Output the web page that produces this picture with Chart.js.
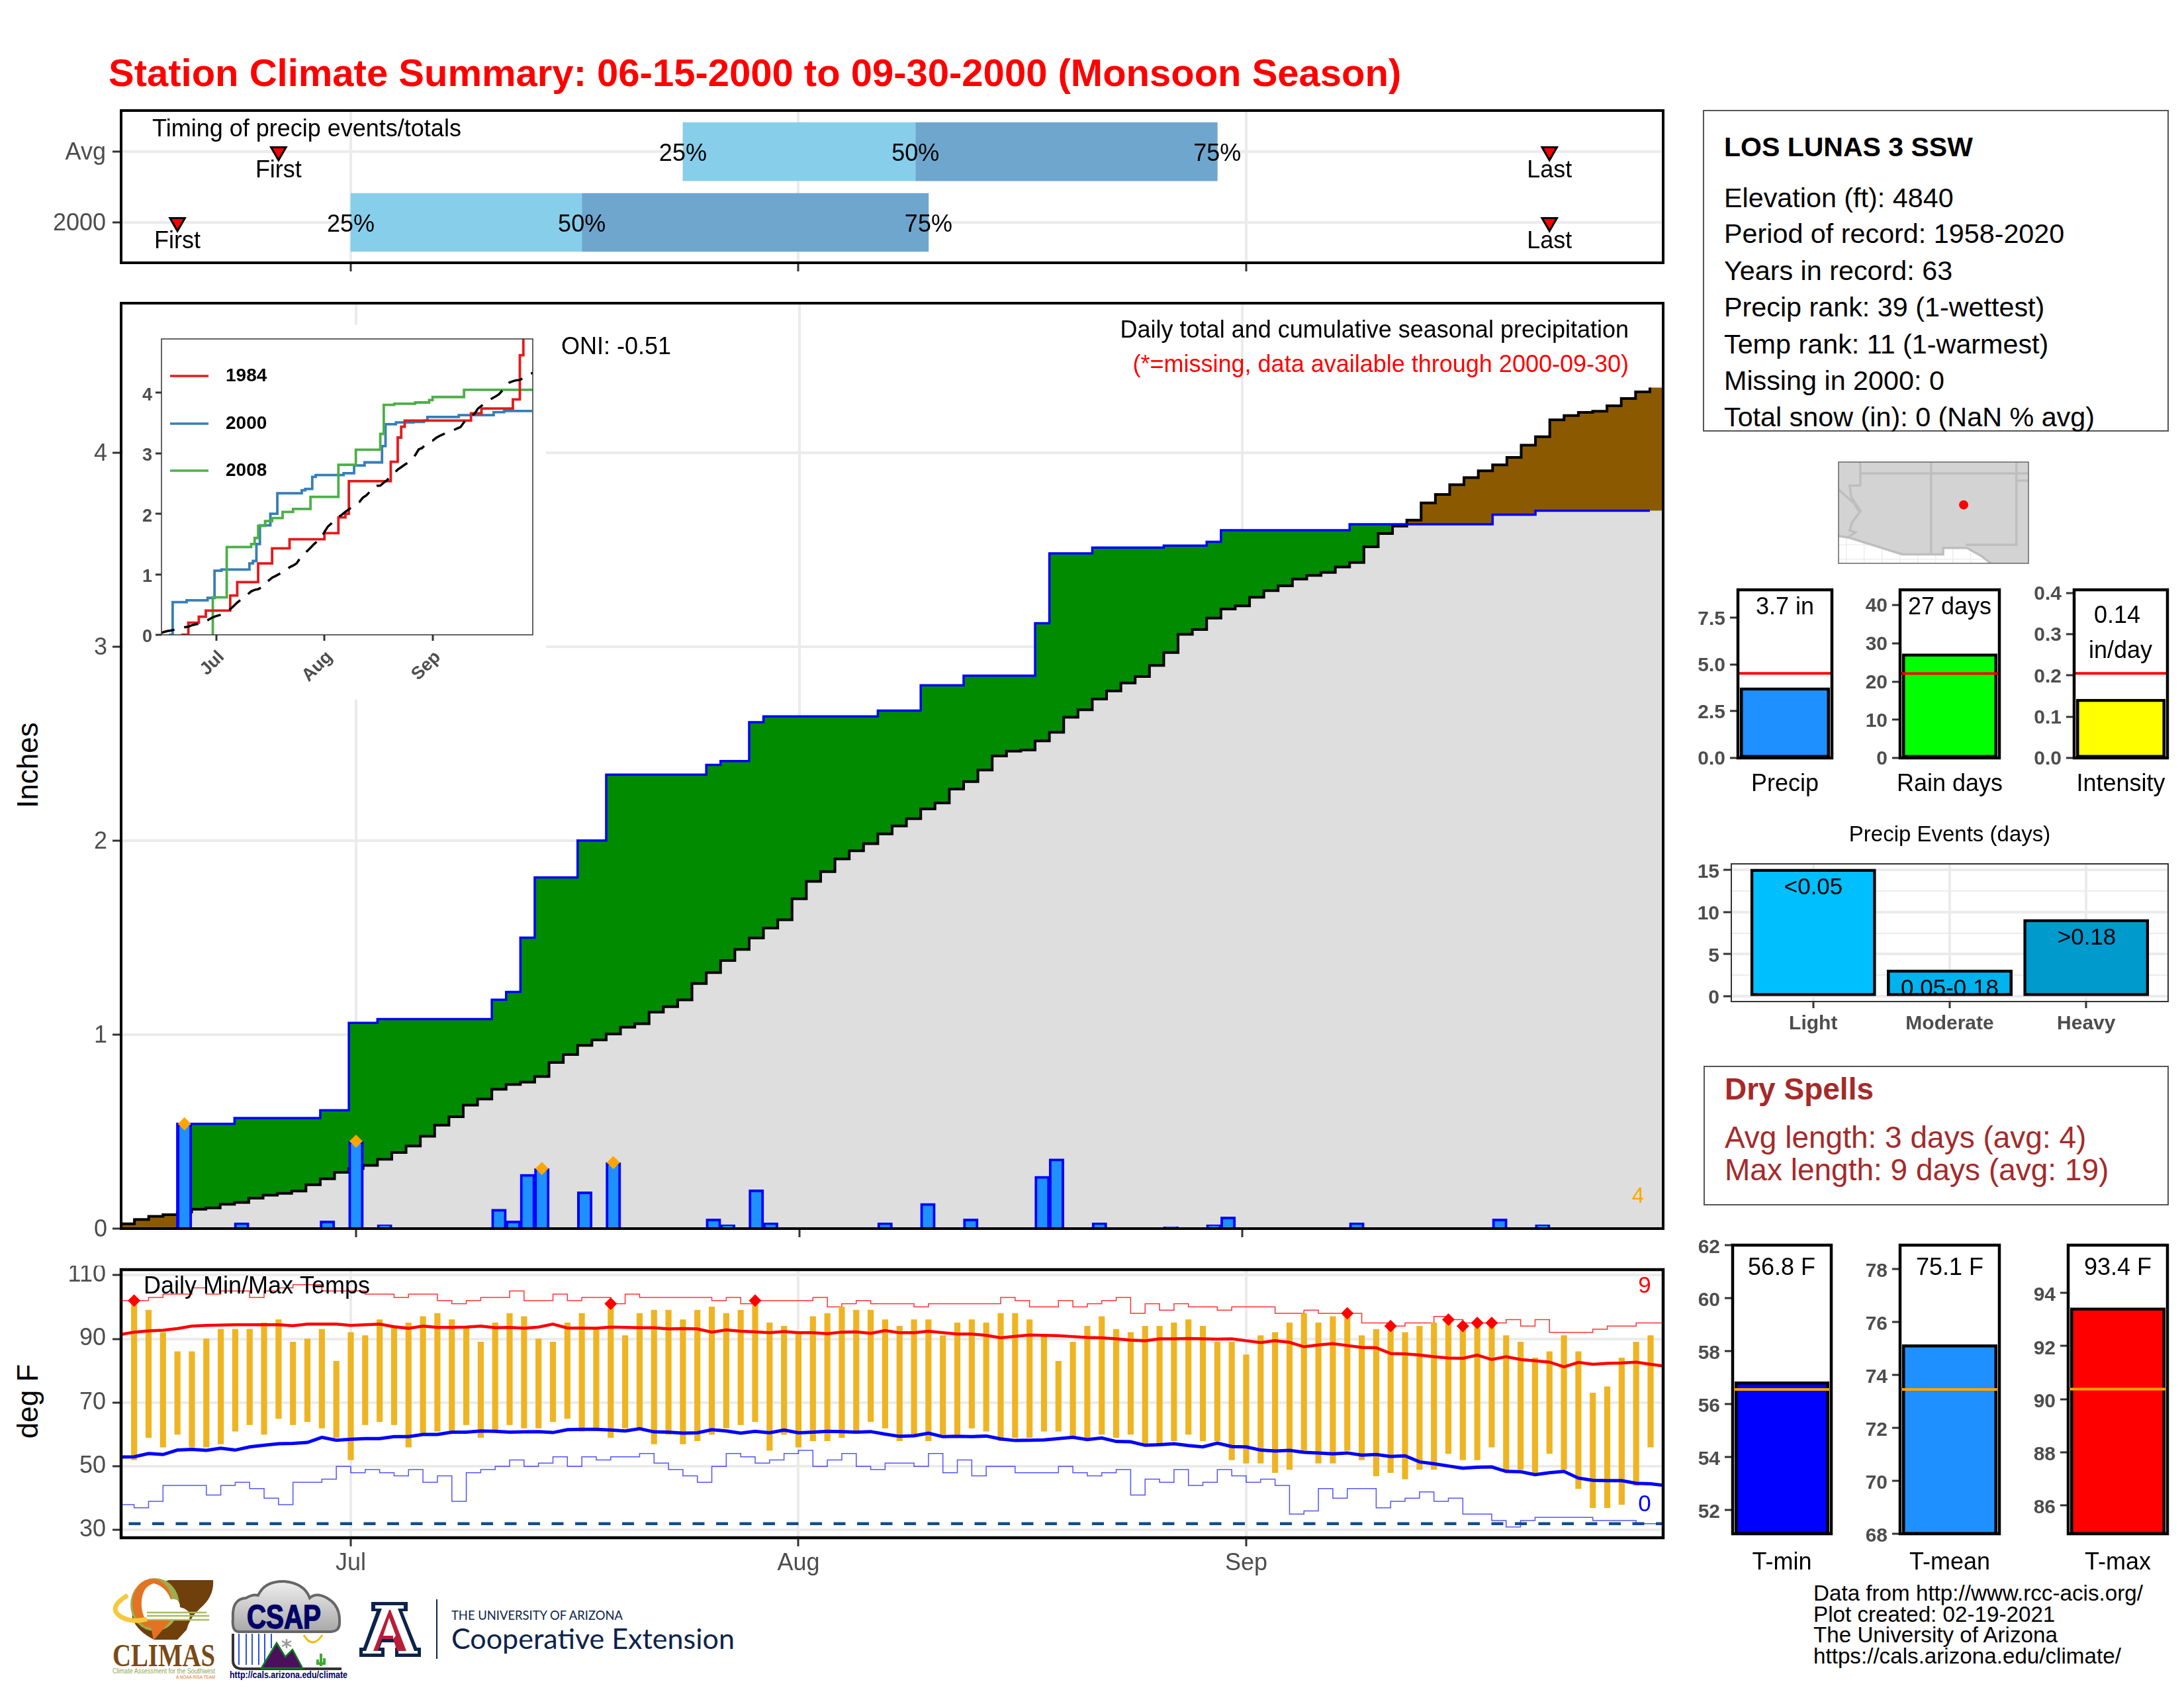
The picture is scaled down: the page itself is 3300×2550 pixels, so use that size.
<!DOCTYPE html>
<html><head><meta charset="utf-8">
<style>
html,body{margin:0;padding:0;background:#fff;width:3300px;height:2550px;overflow:hidden}
canvas{position:absolute;display:block}
.t{position:absolute;white-space:nowrap;font-family:"Liberation Sans",Arial,sans-serif}
.box{position:absolute;box-sizing:border-box;background:transparent}
</style>
<script src="https://cdn.jsdelivr.net/npm/chart.js@4"></script>
</head><body>
<svg id="logos" width="3300" height="2550" style="position:absolute;left:0;top:0" xmlns="http://www.w3.org/2000/svg">
<defs><linearGradient id="cg" x1="0" y1="0" x2="0" y2="1"><stop offset="0" stop-color="#efefef"/><stop offset="1" stop-color="#a8a8a8"/></linearGradient></defs>
<!-- CLIMAS -->
<path d="M255 2387 L322 2387 Q324 2412 302 2430 Q286 2445 282 2462 L268 2477 L233 2477 Q208 2465 200 2445 Q196 2405 255 2387Z" fill="#6F3F0C"/>
<ellipse cx="234" cy="2424" rx="37" ry="40" fill="#9BAF4E"/>
<ellipse cx="230" cy="2422" rx="30" ry="37" fill="#E37222"/>
<path d="M232 2392 Q212 2398 214 2428 Q216 2444 222 2446 L286 2446 Q290 2432 272 2428 Q272 2414 258 2416 Q250 2396 232 2392Z" fill="#fff"/>
<path d="M193 2410 Q162 2428 182 2442 Q198 2452 222 2446" fill="none" stroke="#F6C83C" stroke-width="7"/>
<path d="M222 2441 L316 2441 M222 2447 L316 2447 M222 2436 L312 2436" stroke="#A9BC5E" stroke-width="2.5"/>
<path d="M226 2448 L258 2448 L232 2478Z" fill="#E37222"/>
<text x="170" y="2517" font-family="Liberation Serif" font-weight="bold" font-size="48" fill="#7A4A14" textLength="155" lengthAdjust="spacingAndGlyphs">CLIMAS</text>
<text x="170" y="2528" font-family="Liberation Sans" font-size="10" fill="#8FA65A" textLength="155" lengthAdjust="spacingAndGlyphs">Climate Assessment for the Southwest</text>
<text x="266" y="2536" font-family="Liberation Sans" font-size="8" fill="#E37222" textLength="59" lengthAdjust="spacingAndGlyphs">A NOAA RISA TEAM</text>
<!-- CSAP -->
<path d="M360 2465 Q350 2464 352 2445 Q350 2415 372 2414 Q382 2408 390 2410 Q400 2388 430 2389 Q460 2392 468 2414 Q478 2405 494 2414 Q514 2425 513 2450 Q514 2464 500 2465Z" fill="url(#cg)" stroke="#666" stroke-width="4"/>
<text x="429" y="2460" text-anchor="middle" font-family="Liberation Sans" font-weight="bold" font-size="50" fill="#000066" stroke="#000066" stroke-width="1.5" textLength="112" lengthAdjust="spacingAndGlyphs">CSAP</text>
<path d="M361 2468 V2515 M372 2468 V2515 M381 2468 V2515 M391 2468 V2515 M400 2468 V2512 M410 2468 V2490" stroke="#2A50E0" stroke-width="2"/>
<path d="M352 2468 V2508 Q352 2521 366 2521 L516 2521" fill="none" stroke="#333" stroke-width="4"/>
<path d="M395 2520 L418 2482 L431 2503 L442 2492 L457 2520Z" fill="#4B0F5B" stroke="#0A7A20" stroke-width="2.5"/>
<path d="M459 2470 Q472 2492 487 2470" fill="none" stroke="#F5B800" stroke-width="3"/>
<path d="M433 2476 V2490 M426 2479 L440 2487 M440 2479 L426 2487" stroke="#999" stroke-width="2.5"/>
<path d="M485 2517 V2498 M480 2507 V2513 H490 V2505" fill="none" stroke="#3DAA35" stroke-width="4"/>
<text x="347" y="2535" font-family="Liberation Sans" font-weight="bold" font-size="15" fill="#000066" textLength="178" lengthAdjust="spacingAndGlyphs">http://cals.arizona.edu/climate</text>
<!-- UA -->
<path d="M561 2420 H616 V2434 H608 L630 2489 H636 V2503 H597 V2489 H603 L600 2481 H577 L574 2489 H581 V2503 H543 V2489 H549 L569 2434 H561Z" fill="#0C234B"/>
<path d="M567 2425 H610 V2430 H601 L626 2494 H631 V2498 H602 V2494 H609 L603 2476 H574 L568 2494 H576 V2498 H548 V2494 H553 L577 2430 H567Z" fill="#fff"/>
<path d="M588 2432 L590 2432 L614 2494 H600 L594 2476 L598 2471 L588 2444 L579 2471 H594 L594 2476 H577 L571 2494 H564Z" fill="#B81D39"/>
<path d="M660 2416 V2506" stroke="#0C234B" stroke-width="2"/>
<text x="682" y="2447" font-family="Lato" font-size="20" fill="#0C234B" textLength="259" lengthAdjust="spacingAndGlyphs">THE UNIVERSITY OF ARIZONA</text>
<text x="682" y="2491" font-family="Lato" font-size="42" fill="#0C234B" textLength="428" lengthAdjust="spacingAndGlyphs">Cooperative Extension</text>
</svg>
<script>
// ---------- axis labels ----------
const monthLabels = ['Jul', 'Aug', 'Sep'];
const monthDays = [16, 47, 78]; // days since Jun 15
const precipTicks = [0, 1, 2, 3, 4];
const tempTicks = [30, 50, 70, 90, 110];
const timingRows = ['2000', 'Avg'];

// ---------- daily precipitation of 2000 ----------
const rainDays = [4,8,14,16,18,26,27,28,29,32,34,41,42,44,45,53,56,59,64,65,68,73,76,77,86,96,99];
const rainAmounts = [.54,.03,.04,.45,.02,.10,.04,.28,.31,.19,.34,.05,.02,.20,.03,.03,.13,.05,.27,.36,.03,.01,.02,.06,.03,.05,.02];
const topRainDays = [4, 16, 29, 34];
const topRainAmounts = [.54, .45, .31, .34];

// ---------- cumulative precipitation ----------
const cumulative2000 = [
 0,0,0,0,.54,.54,.54,.54,.57,.57,
 .57,.57,.57,.57,.61,.61,1.06,1.06,1.08,1.08,
 1.08,1.08,1.08,1.08,1.08,1.08,1.18,1.22,1.50,1.81,
 1.81,1.81,2.00,2.00,2.34,2.34,2.34,2.34,2.34,2.34,
 2.34,2.39,2.41,2.41,2.61,2.64,2.64,2.64,2.64,2.64,
 2.64,2.64,2.64,2.67,2.67,2.67,2.80,2.80,2.80,2.85,
 2.85,2.85,2.85,2.85,3.12,3.48,3.48,3.48,3.51,3.51,
 3.51,3.51,3.51,3.52,3.52,3.52,3.54,3.60,3.60,3.60,
 3.60,3.60,3.60,3.60,3.60,3.60,3.63,3.63,3.63,3.63,
 3.63,3.63,3.63,3.63,3.63,3.63,3.68,3.68,3.68,3.70,
 3.70,3.70,3.70,3.70,3.70,3.70,3.70,3.70];
const cumulativeAvg = [
 .025,.047,.063,.072,.085,.10,.107,.125,.135,.157,
 .172,.182,.194,.226,.257,.29,.31,.326,.357,.392,
 .426,.476,.533,.577,.636,.668,.718,.743,.755,.784,
 .856,.897,.944,.972,1.003,1.038,1.056,1.116,1.144,1.179,
 1.263,1.32,1.382,1.439,1.498,1.549,1.592,1.70,1.79,1.84,
 1.906,1.947,1.984,2.034,2.075,2.113,2.163,2.194,2.266,2.304,
 2.364,2.436,2.461,2.467,2.514,2.558,2.636,2.674,2.73,2.771,
 2.812,2.846,2.903,2.969,3.063,3.088,3.147,3.194,3.21,3.254,
 3.288,3.313,3.348,3.367,3.382,3.41,3.433,3.514,3.583,3.621,
 3.652,3.74,3.784,3.834,3.871,3.906,3.937,3.975,4.038,4.082,
 4.169,4.191,4.207,4.213,4.241,4.279,4.313,4.335];

// ---------- inset comparison years (day of change, new total) ----------
const days1984 = [6,8,11,13,20,22,28,32,37,47,51,53,54,66,68,69,70,89,92,101,103,104,107];
const totals1984 = [0,.2,.3,.4,.65,.87,1.18,1.43,1.58,1.68,1.94,2.0,2.54,2.86,3.26,3.44,3.54,3.66,3.74,3.89,4.62,4.95,4.95];
const days2008 = [15,15.01,19,26,27,28,30,32,35,38,43,51,56,63,64,67,73,77,78,87,107];
const totals2008 = [0,.62,1.45,1.5,1.6,1.8,1.88,1.93,2.03,2.08,2.28,2.81,3.06,3.32,3.8,3.82,3.84,3.88,3.93,4.05,4.05];

// ---------- timing of events ----------
const timingFirst = [4, 11];
const timingLast = [99, 99];
const timing25 = [16, 39];
const timing50 = [32, 55.1];
const timing75 = [56, 76];

// ---------- daily temperatures ----------
const tmaxDaily = [null,102,99,92,86,86,90,93,93,93,95,96,89,90,93,83,92,91,96,94,95,97,98,96,94,89,95,98,97,90,89,95,98,93,101,91,98,99,99,96,99,100,98,99,102,95,94,92,97,98,
 100,99,99,96,94,96,96,91,95,96,
 95,98,98,96,91,83,89,94,97,93,
 92,94,94,95,96,94,89,89,85,91,
 92,95,98,95,97,98,91,93,94,92,
 94,95,96,94,95,95,91,89,84,86,
 91,86,73,75,84,89,91,null];
const tminDaily = [null,52,59,56,60,56,56,57,61,63,60,65,63,64,62,59,52,63,64,63,56,60,61,61,63,59,61,63,62,62,64,65,61,62,59,62,62,57,60,57,58,60,62,63,64,55,60,56,58,58,
 59,61,64,62,58,60,58,60,60,62,
 61,58,59,59,61,61,59,59,60,59,
 60,57,57,58,60,58,58,52,51,51,
 48,49,55,51,51,55,52,47,48,46,
 49,49,54,52,52,56,49,49,48,54,
 49,43,37,37,38,44,56,null];
const normalHigh = [91.3,92.1,92.5,92.7,93.2,94,94.2,94.3,94.4,94.4,94.4,94.4,94.1,94.6,94.6,94.6,94.2,94.4,94.6,93.8,93.3,94,93.6,93.6,93.7,94,93.5,93.6,93.3,93.7,94.6,93.4,93.4,93.3,93.7,93.6,93.5,93.5,93.1,93.2,93.1,92.1,92.8,92.4,92.2,91.9,92.3,91.9,91.9,91.6,
 92.1,92.2,91.7,92.6,91.9,91.9,92.4,91.9,91.5,91.5,
 91.1,90.3,90.8,91.2,91.1,91,90.7,90.4,90.3,90,
 89.6,89.4,90,90,90.1,90,89.9,90,89.4,88.8,
 89.4,88.9,87.5,88.1,88.5,87.9,87.3,87.2,85.4,85.3,
 84.9,84.4,84,83.9,84.9,83.5,84.4,83.5,83.1,82.7,
 81.2,82.6,82,82.3,82.4,82.7,82,81.4];
const normalLow = [52.9,53,54,53.7,55.1,55.3,55,55.7,55.1,56.1,56.6,57.1,57.2,57.5,59.1,58.2,58.5,58.7,58.7,59.3,59.3,60,60,60.7,60.7,61.1,61,60.7,60.8,60.9,60.6,61.5,61.6,61.6,61.4,61.1,61.8,60.8,60.7,60.4,60.5,61.5,61.1,60.4,61,60.5,61.4,60.5,60.7,61,
 60.9,60.7,60.9,60.1,59.4,59.6,60.4,59.3,59.4,59.3,
 59.5,58.6,58.1,58.2,58.3,58.7,59.1,58.4,58.9,57.8,
 57.7,56.6,56.8,57.1,56.5,56.1,57.3,56.2,56.1,55.1,
 54.8,55,54.4,54.2,53.9,54.2,53.5,53.7,53.1,53.3,
 51.4,50.8,50.1,49.4,49.7,49.8,48.4,48.3,47.4,48,
 48.4,46.3,45.6,45.5,45.5,44.7,44.5,44];
const recordHigh = [102,102,103,104,104,106,104,105,105,103,
 105,106,107,107,105,105,105,104,104,103,
 104,104,102,101,102,103,103,105,102,102,
 104,102,103,103,101,104,103,103,103,103,
 103,102,103,101,102,102,102,102,103,100,
 101,102,101,101,101,100,101,101,101,101,
 101,103,102,100,100,102,100,101,102,103,
 98,101,99,101,100,100,99,100,100,100,
 98,98,99,98,98,98,95,95,94,95,
 95,97,96,95,95,95,96,94,96,92,
 92,92,93,94,94,95,95,95];
const recordLow = [38,37,39,44,44,44,41,44,45,43,
 40,38,45,45,46,50,48,49,48,47,
 49,45,47,39,48,49,50,52,50,51,
 53,50,53,52,53,53,54,51,49,47,
 45,50,54,53,51,52,54,55,50,52,
 54,50,49,51,51,50,54,48,52,47,
 50,50,48,48,48,50,48,47,48,49,
 41,46,45,49,44,45,49,47,45,46,
 44,35,36,43,40,43,43,37,39,40,
 42,39,40,35,35,33,31,33,34,34,
 34,34,33,33,33,32,32,32];
const freezeLine = [32, 32];
const recordHighDays = [1,34,44,85,88,92,93,94,95];
const recordHighTemps = [102,101,102,98,94,96,94,95,95];

// ---------- summary panels ----------
const precipTotal = [3.7], precipNormal = [4.53];
const rainDayTotal = [27], rainDayNormal = [22.1];
const intensityTotal = [0.14], intensityNormal = [0.205];
const eventLabels = ['Light', 'Moderate', 'Heavy'];
const eventCounts = [15, 3, 9];
const eventRanges = ['<0.05', '0.05-0.18', '>0.18'];
const eventTicks = [0, 2.5, 5, 7.5, 10, 12.5, 15];
const tminSeason = [56.8], tminNormal = [56.55];
const tmeanSeason = [75.1], tmeanNormal = [73.45];
const tmaxSeason = [93.4], tmaxNormal = [90.38];

// ---------- locator map (lon / lat) ----------
const landLon = [-115.56,-102.2,-102.2,-104.85,-105.5,-106.53,-108.2,-108.2,-111.07,-114.8,-115.56,-115.56];
const landLat = [37.8,37.8,30.7,30.7,31.2,31.78,31.78,31.33,31.33,32.5,32.62,37.8];
const borderAzNmLon = [-109.05,-109.05]; const borderAzNmLat = [37.8,31.33];
const border37Lon = [-114.03,-102.2]; const border37Lat = [37,37];
const borderPanLon = [-103.05,-102.2]; const borderPanLat = [36.5,36.5];
const borderNmTxLon = [-103.05,-103.05,-106.6]; const borderNmTxLat = [37.8,32,32];
const borderRiverLon = [-114.03,-114.03,-114.78,-114.66,-114.02,-114.61,-114.78,-114.37,-114.85];
const borderRiverLat = [37.8,36.15,36.15,35.33,34.38,33.56,33.01,32.87,32.55];
const borderCaNvLon = [-115.56,-114.49,-114.13]; const borderCaNvLat = [35.88,34.92,34.38];
const stationLon = [-106.76]; const stationLat = [34.8];

// ---------- text ----------
const titleText = 'Station Climate Summary: 06-15-2000 to 09-30-2000 (Monsoon Season)';
const stationLines = ['Elevation (ft): 4840','Period of record: 1958-2020','Years in record: 63','Precip rank: 39 (1-wettest)','Temp rank: 11 (1-warmest)','Missing in 2000: 0','Total snow (in): 0 (NaN % avg)'];
const footerLines = ['Data from http://www.rcc-acis.org/','Plot created: 02-19-2021','The University of Arizona','https://cals.arizona.edu/climate/'];

// ================= helpers =================
const FF = '"Liberation Sans", Arial, sans-serif';
Chart.defaults.font.family = FF;
Chart.defaults.animation = false;
const GRAY = '#4D4D4D', GRID = '#EBEBEB', TICK = '#333333';

function addText(x, base, str, size, opt = {}) {
  const d = document.createElement('div');
  d.className = 't'; d.textContent = str;
  d.style.fontSize = size + 'px';
  d.style.fontWeight = opt.bold ? 'bold' : 'normal';
  d.style.color = opt.color || '#000';
  d.style.top = (base - 0.92 * size) + 'px';
  d.style.left = x + 'px';
  document.body.appendChild(d);
}
function addBox(x, y, w, h, border) {
  const d = document.createElement('div');
  d.className = 'box';
  Object.assign(d.style, {left: x + 'px', top: y + 'px', width: w + 'px', height: h + 'px', border});
  document.body.appendChild(d);
}

function axis(o) {
  const labels = o.labels;
  return {
    type: 'linear', bounds: 'data', min: o.min, max: o.max, offset: false,
    grid: {
      offset: false,
      display: o.grid !== false,
      drawOnChartArea: o.grid !== false && !o.noArea,
      drawTicks: o.tickLength !== 0,
      color: o.gridColor || GRID, lineWidth: o.gridWidth || 4,
      tickColor: o.tickColor || TICK, tickWidth: o.tickWidth || 3, tickLength: o.tickLength === undefined ? 13 : o.tickLength,
      z: -1
    },
    border: {display: false},
    ticks: {
      display: o.showLabels !== false,
      autoSkip: false, includeBounds: false,
      minRotation: o.rot || 0, maxRotation: o.rot || 0,
      labelOffset: o.labelOffset || 0,
      padding: o.padding === undefined ? 6 : o.padding,
      color: o.color || GRAY,
      font: {size: o.size || 36, weight: o.bold ? 'bold' : 'normal', family: FF},
      callback(v) { return labels ? (labels(v) ?? '') : String(v); }
    },
    afterBuildTicks(s) { s.ticks = o.at.map(v => ({value: v})); },
    afterFit(s) {
      if (s.isHorizontal()) s.height = o.margin; else s.width = o.margin;
      s.paddingLeft = s.paddingRight = s.paddingTop = s.paddingBottom = 0;
    }
  };
}

function panel(r, m, datasets, scales, deco = {}) {
  const c = document.createElement('canvas');
  const ox = r.x - m.l, oy = r.y - m.t;
  c.width = r.w + m.l + m.r; c.height = r.h + m.t + m.b;
  c.style.left = ox + 'px'; c.style.top = oy + 'px';
  c.style.width = c.width + 'px'; c.style.height = c.height + 'px';
  if (deco.bg) c.style.background = deco.bg;
  document.body.appendChild(c);
  const plug = {
    id: 'deco',
    afterDatasetsDraw(ch) {
      const g = ch.ctx, a = ch.chartArea;
      if (deco.frame) {
        g.save(); g.strokeStyle = deco.frame.color || '#000'; g.lineWidth = deco.frame.width || 4;
        g.strokeRect(a.left, a.top, a.right - a.left, a.bottom - a.top); g.restore();
      }
      for (const n of (deco.notes || [])) drawNote(ch, g, n, ox, oy);
      if (deco.legend) deco.legend(g, ox, oy);
    }
  };
  return new Chart(c, {
    data: {datasets},
    options: {
      responsive: false, maintainAspectRatio: false, devicePixelRatio: 1, animation: false,
      layout: {autoPadding: false, padding: {top: m.t, right: m.r, left: 0, bottom: 0}},
      plugins: {legend: {display: false}, tooltip: {enabled: false}, title: {display: false}},
      scales
    },
    plugins: [plug]
  });
}
function drawNote(ch, g, n, ox, oy) {
  g.save();
  const x = n.vx !== undefined ? ch.scales.x.getPixelForValue(n.vx) : n.px - ox;
  const y = (n.vy !== undefined ? ch.scales.y.getPixelForValue(n.vy) : n.py - oy) + (n.dy || 0) + 3;
  if (n.clipBottom) { g.beginPath(); g.rect(0, 0, ch.width, ch.scales.y.getPixelForValue(0) - 3); g.clip(); }
  g.font = `${n.bold ? 'bold ' : ''}${n.size || 36}px ${FF}`;
  g.fillStyle = n.color || '#000';
  g.textAlign = n.align || 'center'; g.textBaseline = 'middle';
  g.fillText(n.text, x, y);
  g.restore();
}
const line = (pts, o = {}) => Object.assign({type: 'line', data: pts, pointRadius: 0, borderWidth: 0, fill: false, tension: 0, spanGaps: false}, o);
const byIndex = (vals, shift = 0) => vals.map((y, i) => ({x: i + shift, y}));
const zip = (xs, ys) => xs.map((x, i) => ({x, y: ys[i]}));
const flat = (xs, v) => xs.map(x => ({x, y: v}));

// ================= page text =================
addText(164, 129, titleText, 58, {bold: true, color: '#FF0000'});
addBox(2573, 166, 704, 486, '2px solid #555');
addText(2605, 237, 'LOS LUNAS 3 SSW', 41, {bold: true});
[314, 368, 424, 479, 535, 590, 645].forEach((b, i) => addText(2605, b, stationLines[i], 41.3));
addBox(2574, 1610, 703, 211, '2px solid #555');
addText(2606, 1660, 'Dry Spells', 46, {bold: true, color: '#A52A2A'});
addText(2606, 1733, 'Avg length: 3 days (avg: 4)', 46, {color: '#A52A2A'});
addText(2606, 1782, 'Max length: 9 days (avg: 19)', 46, {color: '#A52A2A'});
[2419, 2450.5, 2482, 2513.5].forEach((b, i) => addText(2740, b, footerLines[i], 33.2));

function vertical(str, cx, cy) {
  const d = document.createElement('div');
  d.className = 't'; d.textContent = str; d.style.fontSize = '44px';
  d.style.left = cx + 'px'; d.style.top = cy + 'px';
  d.style.transform = 'translate(-50%,-50%) rotate(-90deg)';
  document.body.appendChild(d);
}
vertical('Inches', 42, 1156);
vertical('deg F', 42, 2117);

// ================= timing panel =================
const monthLabelOf = v => monthLabels[monthDays.indexOf(v)] ?? '';
panel({x: 183, y: 167, w: 2330, h: 230}, {l: 150, t: 6, r: 6, b: 30}, [
  {type: 'bar', indexAxis: 'y', grouped: false, barThickness: 88, backgroundColor: '#6FA6CD', order: 6,
   data: [{x: [timing50[0], timing75[0]], y: 1}, {x: [timing50[1], timing75[1]], y: 2}]},
  {type: 'bar', indexAxis: 'y', grouped: false, barThickness: 88, backgroundColor: '#87CEEB', order: 5,
   data: [{x: [timing25[0], timing50[0]], y: 1}, {x: [timing25[1], timing50[1]], y: 2}]},
  line([{x: timingFirst[0], y: 1}, {x: timingFirst[1], y: 2}, {x: timingLast[0], y: 1}, {x: timingLast[1], y: 2}], {
    type: 'scatter', showLine: false, order: 1, pointStyle: 'triangle', pointRotation: 180, pointRadius: 13,
    pointBorderWidth: 3, pointBackgroundColor: '#FF0000', pointBorderColor: '#000'})
], {
  x: axis({min: .1, max: 106.87, at: monthDays, margin: 30, showLabels: false}),
  y: axis({min: .43, max: 2.58, at: [1, 2], margin: 150, labels: v => timingRows[v - 1], padding: 10, labelOffset: 2})
}, {frame: {width: 4}, notes: [
  {px: 230, py: 193, text: 'Timing of precip events/totals', align: 'left'},
  {vx: timingFirst[1], vy: 2, dy: 26, text: 'First'},
  {vx: timingFirst[0], vy: 1, dy: 26, text: 'First'},
  {vx: timingLast[1], vy: 2, dy: 26, text: 'Last'},
  {vx: timingLast[0], vy: 1, dy: 26, text: 'Last'},
  {vx: timing25[1], vy: 2, dy: 1, text: '25%'}, {vx: timing50[1], vy: 2, dy: 1, text: '50%'}, {vx: timing75[1], vy: 2, dy: 1, text: '75%'},
  {vx: timing25[0], vy: 1, dy: 1, text: '25%'}, {vx: timing50[0], vy: 1, dy: 1, text: '50%'}, {vx: timing75[0], vy: 1, dy: 1, text: '75%'}
]});

// ================= main precipitation panel =================
const lastDay = cumulative2000.length - 1;
const extended = v => byIndex(v, -0.5).concat([{x: 107.43, y: v[lastDay]}]);
const lowerEnvelope = cumulative2000.map((v, i) => Math.min(v, cumulativeAvg[i]));
panel({x: 183, y: 458, w: 2330, h: 1398}, {l: 130, t: 6, r: 6, b: 30}, [
  line(extended(lowerEnvelope), {stepped: true, fill: 'origin', backgroundColor: '#DEDEDE', order: 20}),
  line(extended(cumulativeAvg), {stepped: true, fill: {target: 2, above: '#8B5A00', below: '#008B00'}, order: 19}),
  line(extended(cumulative2000), {stepped: true, order: 18}),
  line(byIndex(cumulativeAvg, -0.5), {stepped: true, borderColor: '#000', borderWidth: 4, borderCapStyle: 'butt', order: 6}),
  line(byIndex(cumulative2000, -0.5), {stepped: true, borderColor: '#0000FF', borderWidth: 3.5, borderCapStyle: 'butt', order: 5}),
  {type: 'bar', grouped: false, barThickness: 22.5, data: zip(rainDays, rainAmounts), backgroundColor: '#1E90FF', borderColor: '#0000FF', borderWidth: 4, order: 3},
  line(zip(topRainDays, topRainAmounts), {showLine: false, order: 1, pointStyle: 'rectRot', pointRadius: 10, pointBackgroundColor: '#FFA500', pointBorderWidth: 0})
], {
  x: axis({min: -.43, max: 107.43, at: monthDays, margin: 30, showLabels: false}),
  y: axis({min: 0, max: 4.77, at: precipTicks, margin: 130, padding: 8, labelOffset: 2})
}, {frame: {width: 4}, notes: [
  {px: 848, py: 522, text: 'ONI: -0.51', align: 'left'},
  {px: 2461, py: 497, text: 'Daily total and cumulative seasonal precipitation', align: 'right'},
  {px: 2461, py: 549, text: '(*=missing, data available through 2000-09-30)', align: 'right', color: '#FF0000'},
  {px: 2475, py: 1805, text: '4', color: '#FFA500', size: 33}
]});

// ================= inset =================
const insetRect = {x: 244, y: 512, w: 561, h: 447};
const insetYears = [['1984', '#E41A1C', 568], ['2000', '#377EB8', 640], ['2008', '#4DAF4A', 711]];
panel(insetRect, {l: 58, t: 21, r: 20, b: 98}, [
  line(byIndex(cumulativeAvg), {borderColor: '#000', borderWidth: 3.5, borderDash: [22, 15], order: 1}),
  line(zip(days1984, totals1984), {stepped: true, borderColor: '#E41A1C', borderWidth: 3.8, order: 2}),
  line(byIndex(cumulative2000, -0.5).slice(3), {stepped: true, borderColor: '#377EB8', borderWidth: 3.8, order: 4}),
  line(zip(days2008, totals2008), {stepped: true, borderColor: '#4DAF4A', borderWidth: 3.8, order: 3})
], {
  x: axis({min: .3, max: 106.7, at: monthDays, margin: 98, grid: true, noArea: true, labels: monthLabelOf, rot: 45, size: 27, bold: true, tickLength: 9, padding: 9, labelOffset: 8}),
  y: axis({min: 0, max: 4.89, at: precipTicks, margin: 58, noArea: true, size: 27, bold: true, tickLength: 9, padding: 5, labelOffset: 4})
}, {bg: '#fff', frame: {width: 1.5, color: '#333'},
  legend(g, ox, oy) {
    g.save();
    for (const [t, col, y] of insetYears) {
      g.strokeStyle = col; g.lineWidth = 3.5; g.beginPath(); g.moveTo(257 - ox, y - oy); g.lineTo(315 - ox, y - oy); g.stroke();
      g.fillStyle = '#000'; g.font = `bold 28px ${FF}`; g.textBaseline = 'middle'; g.textAlign = 'left'; g.fillText(t, 341 - ox, y - oy);
    }
    g.restore();
  }});

// ================= daily temperature panel =================
const spans = tmaxDaily.map((hi, i) => hi === null ? null : {x: i, y: [tminDaily[i], hi]}).filter(Boolean);
panel({x: 183, y: 1917.5, w: 2330, h: 405}, {l: 130, t: 6, r: 6, b: 70}, [
  line(flat([-1, 108], freezeLine[0]), {borderColor: '#104E8B', borderWidth: 4.5, borderDash: [18, 17.5], order: 8}),
  line(byIndex(recordHigh), {stepped: true, borderColor: 'rgba(255,0,0,.8)', borderWidth: 1.5, order: 7}),
  line(byIndex(recordLow), {stepped: true, borderColor: 'rgba(40,40,255,.8)', borderWidth: 1.5, order: 7}),
  {type: 'bar', grouped: false, barThickness: 8.5, data: spans, backgroundColor: '#EEB422', order: 6},
  line(byIndex(normalHigh), {borderColor: '#FF0000', borderWidth: 4.5, order: 3}),
  line(byIndex(normalLow), {borderColor: '#0000FF', borderWidth: 5, order: 3}),
  line(zip(recordHighDays, recordHighTemps), {showLine: false, order: 1, pointStyle: 'rectRot', pointRadius: 9.5, pointBackgroundColor: '#FF0000', pointBorderWidth: 0})
], {
  x: axis({min: .1, max: 106.87, at: monthDays, margin: 70, labels: monthLabelOf, padding: 4}),
  y: axis({min: 27.6, max: 111.7, at: tempTicks, margin: 130, padding: 10})
}, {frame: {width: 4.5}, notes: [
  {px: 217, py: 1941, text: 'Daily Min/Max Temps', align: 'left'},
  {px: 2485, py: 1940, text: '9', color: '#FF0000', size: 35},
  {px: 2485, py: 2270, text: '0', color: '#0000FF', size: 35}
]});

// ================= summary gauges =================
function gauge(r, label, val, norm, color, lineColor, ymin, ymax, at, fmt, notes, marg) {
  panel(r, {l: marg.l, t: 24, r: 8, b: marg.b}, [
    {type: 'bar', grouped: false, barThickness: r.w - 10, inflateAmount: 2, data: [{x: .5, y: [ymin, val[0]]}], backgroundColor: color, borderColor: '#000', borderWidth: 4.5, borderSkipped: false, order: 3},
    line(flat([0, 1], norm[0]), {borderColor: lineColor, borderWidth: 4, order: 1})
  ], {
    x: axis({min: 0, max: 1, at: [.5], margin: marg.b, grid: false, tickLength: 0, labels: () => label, color: '#000', size: 36, padding: marg.pad}),
    y: axis({min: ymin, max: ymax, at, margin: marg.l, grid: true, noArea: true, size: 30, bold: true, labels: fmt, tickLength: 12, padding: 7, labelOffset: marg.shift})
  }, {frame: {width: 4.5}, notes});
}
const fix1 = v => v.toFixed(1);
const G1 = {l: 130, b: 70, pad: 18, shift: 2};
gauge({x: 2626, y: 891, w: 142, h: 254}, 'Precip', precipTotal, precipNormal, '#1E90FF', '#FF0000', 0, 9, [0, 2.5, 5, 7.5], fix1, [{px: 2697, py: 915, text: '3.7 in'}], G1);
gauge({x: 2871, y: 891, w: 150, h: 254}, 'Rain days', rainDayTotal, rainDayNormal, '#00FF00', '#FF0000', 0, 44, [0, 10, 20, 30, 40], String, [{px: 2946, py: 915, text: '27 days'}], G1);
gauge({x: 3134, y: 891, w: 141, h: 254}, 'Intensity', intensityTotal, intensityNormal, '#FFFF00', '#FF0000', 0, .4075, [0, .1, .2, .3, .4], fix1, [{px: 3199, py: 928, text: '0.14'}, {px: 3204, py: 981, text: 'in/day'}], G1);
const G2 = {l: 130, b: 70, pad: 22, shift: 4};
gauge({x: 2618, y: 1881, w: 149, h: 436}, 'T-min', tminSeason, tminNormal, '#0000FF', '#FFA500', 51.1, 62, [52, 54, 56, 58, 60, 62], String, [{px: 2692, py: 1913, text: '56.8 F'}], G2);
gauge({x: 2871, y: 1881, w: 150, h: 436}, 'T-mean', tmeanSeason, tmeanNormal, '#1E90FF', '#FFA500', 68, 78.9, [68, 70, 72, 74, 76, 78], String, [{px: 2946, py: 1913, text: '75.1 F'}], G2);
gauge({x: 3125, y: 1881, w: 150, h: 436}, 'T-max', tmaxSeason, tmaxNormal, '#FF0000', '#FFA500', 84.93, 95.8, [86, 88, 90, 92, 94], String, [{px: 3200, py: 1913, text: '93.4 F'}], G2);

// ================= precip events =================
const eventColors = ['#00BFFF', '#00B2EE', '#009ACD'];
const eventX = [1, 2, 3];
const eventAxis = axis({min: -.65, max: 15.74, at: eventTicks, margin: 120, size: 30, bold: true, tickLength: 12, padding: 6, labelOffset: 3, labels: v => (v % 5 === 0 ? String(v) : '')});
eventAxis.grid.lineWidth = c => (c.tick && c.tick.value % 5 !== 0 ? 2 : 4);
eventAxis.grid.tickColor = c => (c.tick && c.tick.value % 5 !== 0 ? 'rgba(0,0,0,0)' : TICK);
panel({x: 2616, y: 1305, w: 660, h: 208.5}, {l: 120, t: 70, r: 8, b: 60}, [
  {type: 'bar', grouped: false, barThickness: 186, inflateAmount: 2, data: zip(eventX, eventCounts), backgroundColor: eventColors, borderColor: '#000', borderWidth: 4.5, borderSkipped: false}
], {
  x: axis({min: .4, max: 3.6, at: eventX, margin: 60, labels: v => eventLabels[v - 1], size: 30, bold: true, tickLength: 10, padding: 6}),
  y: eventAxis
}, {frame: {width: 2, color: '#333'}, notes: [
  {px: 2946, py: 1259, text: 'Precip Events (days)', size: 33},
  {px: 2740, py: 1338, text: eventRanges[0], size: 35},
  {px: 2946, py: 1491, text: eventRanges[1], size: 35, clipBottom: true},
  {px: 3153, py: 1414, text: eventRanges[2], size: 35}
]});

// ================= locator map =================
const mapLine = (lon, lat) => line(zip(lon, lat), {type: 'scatter', showLine: true, borderColor: '#BEBEBE', borderWidth: 3.5, order: 3});
panel({x: 2778, y: 698, w: 287, h: 153}, {l: 2, t: 2, r: 2, b: 2}, [
  line(zip(landLon, landLat), {type: 'scatter', showLine: true, fill: 'shape', backgroundColor: '#D3D3D3', borderWidth: 0, order: 5}),
  mapLine(borderAzNmLon, borderAzNmLat), mapLine(border37Lon, border37Lat), mapLine(borderPanLon, borderPanLat),
  mapLine(borderNmTxLon, borderNmTxLat), mapLine(borderRiverLon, borderRiverLat), mapLine(borderCaNvLon, borderCaNvLat),
  line(zip(landLon.slice(3, 11), landLat.slice(3, 11)), {type: 'scatter', showLine: true, borderColor: '#BEBEBE', borderWidth: 3.5, order: 3}),
  line(zip(stationLon, stationLat), {type: 'scatter', showLine: false, order: 1, pointRadius: 7, pointBackgroundColor: '#FF0000', pointBorderWidth: 0})
], {
  x: axis({min: -115.56, max: -102.2, at: [-115, -113.75, -112.5, -111.25, -110, -108.75, -107.5, -106.25, -105, -103.75], margin: 2, showLabels: false, tickLength: 0, gridColor: '#EDEDED', gridWidth: 1.5}),
  y: axis({min: 30.7, max: 37.8, at: [31, 32], margin: 2, showLabels: false, tickLength: 0, gridColor: '#EDEDED', gridWidth: 1.5})
}, {frame: {width: 1.5, color: '#666'}});
</script>
</body></html>
